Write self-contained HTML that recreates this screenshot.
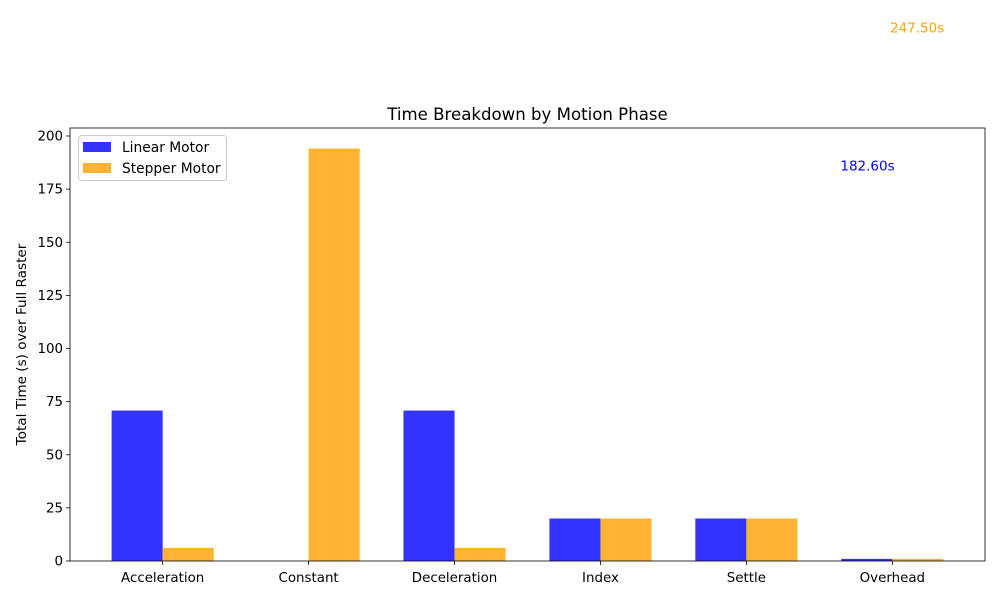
<!DOCTYPE html>
<html><head><meta charset="utf-8"><style>
body{margin:0;background:#fff}
svg{font-family:"DejaVu Sans","Liberation Sans",sans-serif}
</style></head><body>
<svg id="chart" width="1000" height="600" viewBox="0 0 1000 600">
<rect width="1000" height="600" fill="#fff"/>
<g id="plot"></g>
</svg>
<script>
const categories=["Acceleration","Constant","Deceleration","Index","Settle","Overhead"];
const linearValues=[70.8,0,70.8,20,20,1.0];
const stepperValues=[6.2,194.1,6.2,20,20,1.0];
const yTicks=[0,25,50,75,100,125,150,175,200];
const linearTotalLabel="182.60s";
const stepperTotalLabel="247.50s";

const NS="http://www.w3.org/2000/svg";
const L=70,R=985,T=128,B=561;
const xmin=-0.635,xmax=5.635;
const X=v=>L+(v-xmin)/(xmax-xmin)*(R-L);
const Y=v=>B-v*2.125;
const g=document.getElementById('plot');
function mk(tag,attrs,parent){const e=document.createElementNS(NS,tag);for(const k in attrs)e.setAttribute(k,attrs[k]);(parent||g).appendChild(e);return e;}
const bw=0.35;
categories.forEach((c,i)=>{
  const b1=mk('rect',{x:X(i-bw),y:Y(linearValues[i]),width:X(i)-X(i-bw),height:B-Y(linearValues[i]),fill:'#3333ff'});
  
  
  const b2=mk('rect',{x:X(i),y:Y(stepperValues[i]),width:X(i+bw)-X(i),height:B-Y(stepperValues[i]),fill:'#ffb333'});
  
  
  mk('line',{x1:X(i),x2:X(i),y1:B,y2:B+4,stroke:'#000','stroke-width':0.8});
  const t=mk('text',{x:X(i),y:B+21,'text-anchor':'middle','font-size':13.4});
  t.textContent=c;
  
  
});
yTicks.forEach(v=>{
  mk('line',{x1:L-4,x2:L,y1:Y(v),y2:Y(v),stroke:'#000','stroke-width':0.8});
  const t=mk('text',{x:L-7,y:Y(v)+4.5,'text-anchor':'end','font-size':13.4});
  t.textContent=v;
  
  
});
const fr=mk('rect',{x:L,y:T,width:R-L,height:B-T,fill:'none',stroke:'#000','stroke-width':0.8});


const tt=mk('text',{x:(L+R)/2,y:120,'text-anchor':'middle','font-size':16.6});
tt.textContent="Time Breakdown by Motion Phase";


const yt=mk('text',{x:26,y:(T+B)/2,'text-anchor':'middle','font-size':13.6,transform:'rotate(-90 26 '+((T+B)/2)+')'});
yt.textContent="Total Time (s) over Full Raster";


const a1=mk('text',{x:X(4.83),y:Y(182.6+3)+4,'text-anchor':'middle','font-size':13.5,fill:'#0000ff'});
a1.textContent=linearTotalLabel;


const a2=mk('text',{x:X(5.17),y:Y(247.5+3)+4,'text-anchor':'middle','font-size':13.5,fill:'#ffa500'});
a2.textContent=stepperTotalLabel;


// legend
const lg=mk('g',{});


mk('rect',{x:78.5,y:135.5,width:148,height:45,rx:3,fill:'#fff',stroke:'#ccc','stroke-width':1},lg);
mk('rect',{x:83,y:142,width:28,height:10,fill:'#3333ff'},lg);
mk('rect',{x:83,y:163,width:28,height:10,fill:'#ffb333'},lg);
const l1=mk('text',{x:122,y:152,'font-size':13.8},lg);l1.textContent="Linear Motor";


const l2=mk('text',{x:122,y:173,'font-size':13.8},lg);l2.textContent="Stepper Motor";


</script>
</body></html>
